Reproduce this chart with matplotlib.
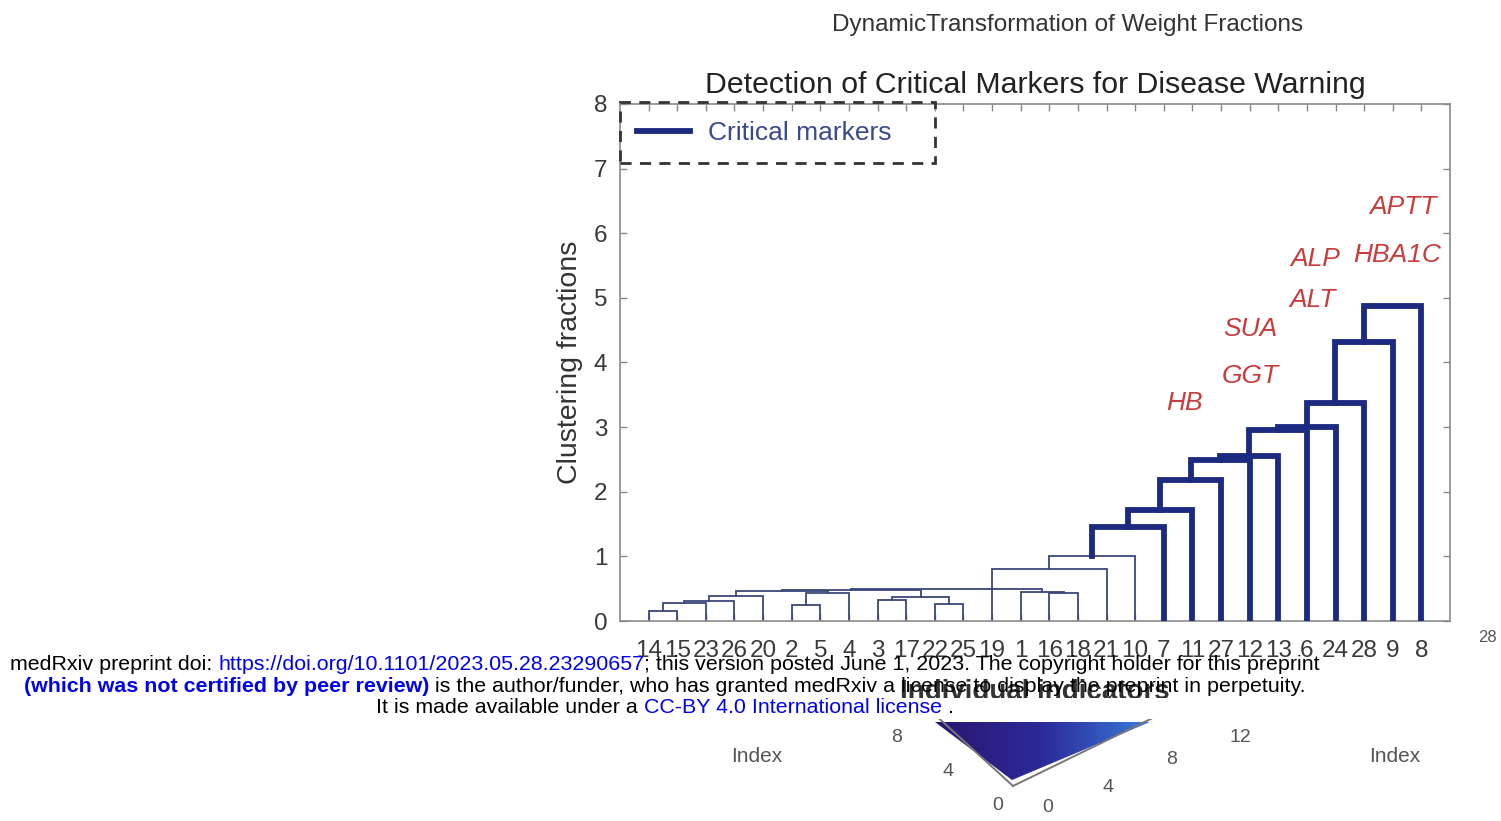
import matplotlib.pyplot as plt
from matplotlib.lines import Line2D
from matplotlib.patches import Polygon, Rectangle
from matplotlib.colors import LinearSegmentedColormap
import numpy as np

plt.rcParams['font.family'] = ['Liberation Sans', 'DejaVu Sans']

# leaf order along the x axis
leaf_labels = [14, 15, 23, 26, 20, 2, 5, 4, 3, 17, 22, 25, 19, 1, 16, 18,
               21, 10, 7, 11, 27, 12, 13, 6, 24, 28, 9, 8]

# links: children are leaf positions (0..27) or earlier links (28 + k)
link_left = [0, 28, 29, 30, 5, 32, 31, 8, 10, 35, 34, 14, 13, 38,
             12, 42, 43, 44, 45, 46, 47, 48, 49, 50, 51, 52]
link_right = [1, 2, 3, 4, 6, 7, 33, 9, 11, 36, 37, 15, 39, 40,
              16, 17, 18, 19, 20, 21, 22, 23, 24, 25, 26, 27]
link_height = [0.16, 0.28, 0.31, 0.39, 0.24, 0.44, 0.46, 0.33, 0.26, 0.37,
               0.48, 0.43, 0.45, 0.50, 0.80, 1.00, 1.46, 1.72, 2.18, 2.49,
               2.55, 2.96, 3.00, 3.37, 4.32, 4.87]
link_critical = [False] * 16 + [True] * 10

marker_names = ['APTT', 'HBA1C', 'ALP', 'ALT', 'SUA', 'GGT', 'HB']
marker_x = [27.36, 27.15, 24.28, 24.21, 22.01, 22.01, 19.74]
marker_y = [6.41, 5.67, 5.60, 4.97, 4.52, 3.79, 3.37]

y_ticks = [0, 1, 2, 3, 4, 5, 6, 7, 8]
index_ticks_left = ['8', '4', '0']
index_ticks_right = ['0', '4', '8', '12']

NAVY = '#1c2a80'
THIN = '#3a4678'
RED = '#c83c3c'

W, H = 1501, 821
fig = plt.figure(figsize=(W / 100, H / 100), dpi=100)
ax = fig.add_axes([620 / W, 1 - 621 / H, 830 / W, 517 / H])

n = len(leaf_labels)
node_x = list(range(1, n + 1))
node_h = [0.0] * n
for l, r, h, crit in zip(link_left, link_right, link_height, link_critical):
    xl, xr = node_x[l], node_x[r]
    hl, hr = node_h[l], node_h[r]
    if crit:
        ax.plot([xl, xl, xr, xr], [hl, h, h, hr], color=NAVY, lw=4.2,
                solid_joinstyle='miter', zorder=3)
    else:
        ax.plot([xl, xl, xr, xr], [hl, h, h, hr], color=THIN, lw=1.3,
                solid_joinstyle='miter', zorder=2)
    node_x.append((xl + xr) / 2)
    node_h.append(h)

for name, x, y in zip(marker_names, marker_x, marker_y):
    ax.text(x, y, name, color=RED, fontsize=19, style='italic',
            ha='center', va='center')

ax.set_xlim(0, 29)
ax.set_ylim(0, 8)
ax.set_xticks(range(1, n + 1))
ax.set_xticklabels([str(v) for v in leaf_labels])
ax.set_yticks(y_ticks)
ax.tick_params(direction='in', top=True, right=True, length=5, width=1,
               color='#888888', labelcolor='#3a3a3a', labelsize=17.5)
ax.tick_params(axis='x', pad=14)
ax.tick_params(axis='y', pad=9)
for s in ax.spines.values():
    s.set_color('#8a8a8a')
    s.set_linewidth(1.2)

ax.set_ylabel('Clustering fractions', fontsize=20.5, color='#333333', labelpad=8)
ax.set_xlabel('Individual indicators', fontsize=20, color='#333333',
              fontweight='bold')
ax.xaxis.set_label_coords(0.5, -0.113)
ax.set_title('Detection of Critical Markers for Disease Warning',
             fontsize=21.8, color='#222222', pad=8)

leg = ax.legend(handles=[Line2D([], [], color=NAVY, lw=4.2)],
                labels=['Critical markers'], loc='upper left',
                bbox_to_anchor=(0, 1), borderaxespad=0, fontsize=19,
                frameon=False, handlelength=2.0, handletextpad=0.7,
                borderpad=0.65)
for t in leg.get_texts():
    t.set_color('#3b4a8a')
ax.add_patch(Rectangle((0, 7.09), 11.0, 0.94, facecolor='none',
                       edgecolor='#333333', lw=2, linestyle=(0, (4, 3)),
                       clip_on=False, zorder=4))

# overlay in pixel coordinates
ov = fig.add_axes([0, 0, 1, 1], zorder=5)
ov.patch.set_alpha(0)
ov.axis('off')

ov.text(1068, 25, 'DynamicTransformation of Weight Fractions', fontsize=17.5,
        color='#333333', ha='center', va='center')
ov.text(1487, 637, '28', fontsize=12, color='#555555', ha='center', va='center')

# lower 3D fragment
tri = Polygon([(935, 722), (1150, 722), (1012, 780)], closed=True,
              facecolor='none', edgecolor='none')
ov.add_patch(tri)
cmap = LinearSegmentedColormap.from_list('idx', ['#2a1670', '#2c2a9a', '#3a7ad8'])
grad = np.linspace(0, 1, 64).reshape(1, -1)
im = ov.imshow(grad, extent=(935, 1150, 780, 722), cmap=cmap, aspect='auto',
               zorder=1)
im.set_clip_path(tri)
ov.plot([932, 1013], [712, 786], color='#777777', lw=1.4)
ov.plot([1013, 1165], [786, 712], color='#777777', lw=1.4)
for tx, (px, py) in zip(index_ticks_left, [(897, 737), (948, 772), (998, 806)]):
    ov.text(px, py, tx, fontsize=14, color='#555555', ha='center', va='center')
for tx, (px, py) in zip(index_ticks_right,
                        [(1048, 808), (1108, 787), (1172, 760), (1240, 737)]):
    ov.text(px, py, tx, fontsize=14, color='#555555', ha='center', va='center')
ov.text(757, 757, 'Index', fontsize=15, color='#555555', ha='center', va='center')
ov.text(1395, 757, 'Index', fontsize=15, color='#555555', ha='center', va='center')

# medRxiv footer
ov.add_patch(Rectangle((0, 698), W, 21, facecolor='white', edgecolor='none',
                       zorder=6))
FS = 15.4
BLUE = '#0000ee'
t = ov.text(10, 674, 'medRxiv preprint doi: ', fontsize=FS, color='black',
            va='bottom', zorder=7)
t = ov.annotate('https://doi.org/10.1101/2023.05.28.23290657', xy=(1, 0),
                xycoords=t, va='bottom', fontsize=FS, color=BLUE, zorder=7)
ov.annotate('; this version posted June 1, 2023. The copyright holder for this preprint',
            xy=(1, 0), xycoords=t, va='bottom', fontsize=FS, color='black', zorder=7)
t = ov.text(24, 696, '(which was not certified by peer review)', fontsize=FS,
            color=BLUE, fontweight='bold', va='bottom', zorder=7)
ov.annotate(' is the author/funder, who has granted medRxiv a license to display the preprint in perpetuity.',
            xy=(1, 0), xycoords=t, va='bottom', fontsize=FS, color='black', zorder=7)
t = ov.text(376, 717, 'It is made available under a ', fontsize=FS,
            color='black', va='bottom', zorder=7)
t = ov.annotate('CC-BY 4.0 International license', xy=(1, 0), xycoords=t,
                va='bottom', fontsize=FS, color=BLUE, zorder=7)
ov.annotate(' .', xy=(1, 0), xycoords=t, va='bottom', fontsize=FS,
            color='black', zorder=7)

ov.set_xlim(0, W)
ov.set_ylim(H, 0)

fig.savefig('out.png', dpi=100)
